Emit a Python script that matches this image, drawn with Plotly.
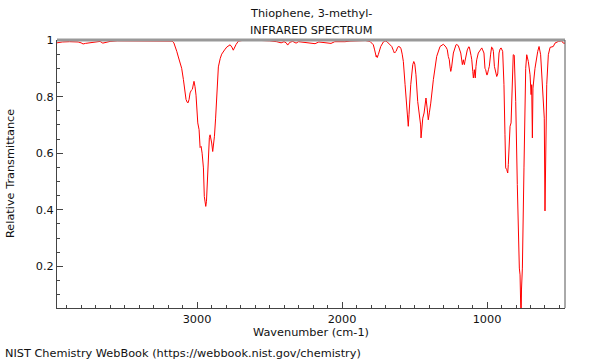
import plotly.graph_objects as go

# ---- data ----
wavenumber = [
    3966, 3930, 3880, 3820, 3800, 3786, 3770, 3745, 3700, 3669, 3650, 3630, 3600, 3550, 3500, 3450, 3400, 3324, 3250, 3200, 3172,
    3160, 3150, 3140, 3129, 3115, 3106, 3094, 3083, 3076, 3068, 3062, 3055, 3048, 3040, 3032, 3025, 3021, 3014, 3007,
    2995, 2986, 2979, 2972, 2965, 2956, 2950, 2944, 2940, 2935, 2929, 2922, 2915, 2910, 2904, 2899, 2892, 2886, 2880,
    2872, 2864, 2853, 2840, 2830, 2810, 2795, 2772, 2760, 2750, 2740, 2731, 2715, 2680, 2634,
    2560, 2500, 2450, 2420, 2400, 2385, 2375, 2360, 2340, 2317, 2300, 2260, 2230, 2186, 2160, 2120, 2076, 2050, 2014,
    1980, 1945, 1900, 1876, 1840, 1807,
    1784, 1775, 1768, 1764, 1761, 1757, 1750, 1742, 1733, 1715, 1703, 1690, 1681, 1668, 1657, 1645, 1639, 1633, 1627,
    1618, 1612, 1600, 1593, 1585,
    1577, 1565, 1554, 1547, 1543, 1538, 1526, 1512, 1505, 1498, 1490, 1478, 1474, 1465, 1458, 1455, 1449, 1443, 1434,
    1421, 1413, 1405, 1397, 1388, 1370, 1347, 1324,
    1312, 1301, 1283, 1274, 1267, 1260, 1255, 1250, 1245, 1241, 1232, 1214, 1209, 1198, 1181, 1170, 1166, 1163, 1160,
    1156, 1152, 1145, 1136, 1126, 1122, 1110, 1105, 1098, 1094, 1090, 1087, 1084, 1081, 1076, 1071, 1060, 1043, 1036,
    1030, 1021, 1014, 1009, 1002, 998, 990, 984, 975, 968, 962, 956, 949, 940, 933, 926, 917, 910, 903, 892,
    883, 876, 871, 864, 857, 853, 846, 841, 834, 828, 819, 812, 802, 791, 783, 777, 772, 768, 765, 762, 756, 745,
    733, 726, 715, 703, 696, 692, 687, 683, 669, 650, 641, 630, 618, 607, 605, 600, 595, 588, 577, 565, 543, 531,
    508, 485, 474, 462,
]
transmittance = [
    0.990, 0.993, 0.994, 0.993, 0.990, 0.986, 0.988, 0.990, 0.993, 0.995, 0.989, 0.991, 0.995, 0.997, 0.997, 0.998, 0.998, 0.998, 0.997, 0.998, 0.996,
    0.990, 0.978, 0.960, 0.940, 0.915, 0.900, 0.860, 0.818, 0.790, 0.780, 0.778, 0.790, 0.813, 0.822, 0.826, 0.845, 0.854, 0.835, 0.805,
    0.707, 0.683, 0.620, 0.624, 0.600, 0.548, 0.447, 0.418, 0.412, 0.430, 0.489, 0.606, 0.655, 0.665, 0.654, 0.636, 0.606, 0.625, 0.660,
    0.724, 0.800, 0.905, 0.935, 0.950, 0.965, 0.975, 0.983, 0.975, 0.964, 0.975, 0.984, 0.996, 0.999, 1.000,
    0.999, 0.997, 0.994, 0.990, 0.994, 0.990, 0.982, 0.992, 0.995, 0.989, 0.994, 0.992, 0.990, 0.987, 0.993, 0.991, 0.988, 0.994, 0.993,
    0.994, 0.996, 0.998, 0.999, 0.998, 0.995,
    0.983, 0.965, 0.948, 0.940, 0.945, 0.938, 0.948, 0.965, 0.977, 0.993, 0.997, 0.994, 0.989, 0.983, 0.977, 0.962, 0.954, 0.957, 0.960,
    0.972, 0.977, 0.975, 0.969, 0.950,
    0.924, 0.842, 0.748, 0.698, 0.695, 0.736, 0.842, 0.913, 0.924, 0.915, 0.877, 0.783, 0.765, 0.730, 0.700, 0.654, 0.690, 0.724, 0.742,
    0.795, 0.760, 0.718, 0.745, 0.777, 0.860, 0.942, 0.977,
    0.983, 0.985, 0.975, 0.966, 0.942, 0.930, 0.905, 0.889, 0.900, 0.925, 0.954, 0.983, 0.984, 0.980, 0.954, 0.913, 0.925, 0.930, 0.920,
    0.913, 0.925, 0.950, 0.965, 0.976, 0.975, 0.945, 0.930, 0.889, 0.866, 0.880, 0.895, 0.880, 0.866, 0.907, 0.930, 0.954, 0.969, 0.972,
    0.965, 0.954, 0.900, 0.895, 0.877, 0.877, 0.895, 0.907, 0.950, 0.975, 0.972, 0.960, 0.907, 0.883, 0.871, 0.880, 0.954, 0.968, 0.972, 0.960,
    0.842, 0.665, 0.548, 0.542, 0.530, 0.560, 0.665, 0.695, 0.707, 0.842, 0.948, 0.946, 0.783, 0.489, 0.300, 0.194, 0.170, 0.120, 0.000, 0.120, 0.194, 0.548,
    0.900, 0.948, 0.924, 0.877, 0.807, 0.842, 0.654, 0.830, 0.900, 0.960, 0.977, 0.948, 0.842, 0.748, 0.724, 0.396, 0.720, 0.842, 0.948, 0.974, 0.977, 0.989,
    0.995, 0.997, 0.989, 0.989,
]
assert len(wavenumber) == len(transmittance), (len(wavenumber), len(transmittance))

x_range = [3966, 462]
y_range = [0.053, 1.0]
y_tick_values = [0.2, 0.4, 0.6, 0.8, 1.0]
y_tick_labels = ["0.2", "0.4", "0.6", "0.8", "1"]

title_lines = ["Thiophene, 3-methyl-", "INFRARED SPECTRUM"]
x_title = "Wavenumber (cm-1)"
y_title = "Relative Transmittance"
footer = "NIST Chemistry WebBook (https://webbook.nist.gov/chemistry)"

FONT = "DejaVu Sans"
FS = 11.3
TXT = "#111111"
AX = "#444444"

fig = go.Figure(
    go.Scatter(
        x=wavenumber, y=transmittance, mode="lines",
        line=dict(color="#ff0000", width=1), hoverinfo="skip", showlegend=False,
    )
)

fig.update_layout(
    width=600, height=360,
    margin=dict(l=57, r=35, t=40, b=52),
    plot_bgcolor="white", paper_bgcolor="white",
    font=dict(family=FONT, size=FS, color=TXT),
    showlegend=False,
)
fig.update_xaxes(
    range=x_range, showgrid=False, zeroline=False,
    showline=True, linecolor=AX, linewidth=1,
    ticks="inside", ticklen=6, tickcolor=AX, tickwidth=1,
    tick0=0, dtick=1000,
    minor=dict(ticks="inside", ticklen=3, tickcolor=AX, tick0=0, dtick=100),
    tickfont=dict(family=FONT, size=FS, color=TXT),
)
fig.update_yaxes(
    range=y_range, showgrid=False, zeroline=False,
    showline=True, linecolor=AX, linewidth=1,
    ticks="inside", ticklen=6, tickcolor=AX, tickwidth=1,
    tickmode="array", tickvals=y_tick_values, ticktext=y_tick_labels,
    minor=dict(ticks="inside", ticklen=3, tickcolor=AX, tickmode="linear", tick0=0, dtick=0.05),
    tickfont=dict(family=FONT, size=FS, color=TXT),
)

# frame: grey top bar, thin right border
fig.add_shape(type="line", xref="paper", yref="paper", x0=0, x1=1, y0=1, y1=1,
              line=dict(color="#999999", width=3))
fig.add_shape(type="line", xref="paper", yref="paper", x0=1, x1=1, y0=0, y1=1,
              line=dict(color="#555555", width=1))

ann = dict(xref="paper", yref="paper", showarrow=False, font=dict(family=FONT, size=FS, color=TXT))
fig.add_annotation(text=title_lines[0], x=0.5, y=1.1007, xanchor="center", yanchor="middle", **ann)
fig.add_annotation(text=title_lines[1], x=0.5, y=1.037, xanchor="center", yanchor="middle", **ann)
fig.add_annotation(text=x_title, x=0.5, y=-0.0896, xanchor="center", yanchor="middle", **ann)
fig.add_annotation(text=y_title, x=-0.0925, y=0.5, xanchor="center", yanchor="middle", textangle=-90, **ann)
fig.add_annotation(text=footer, x=-0.1063, y=-0.168, xanchor="left", yanchor="middle", **ann)

# remove the default 8px page margin so the 600x360 figure fills the window exactly
fig.write_html(
    "out.html",
    config={"displayModeBar": False, "staticPlot": True},
    post_script="document.body.style.margin='0';document.body.style.overflow='hidden';",
)
